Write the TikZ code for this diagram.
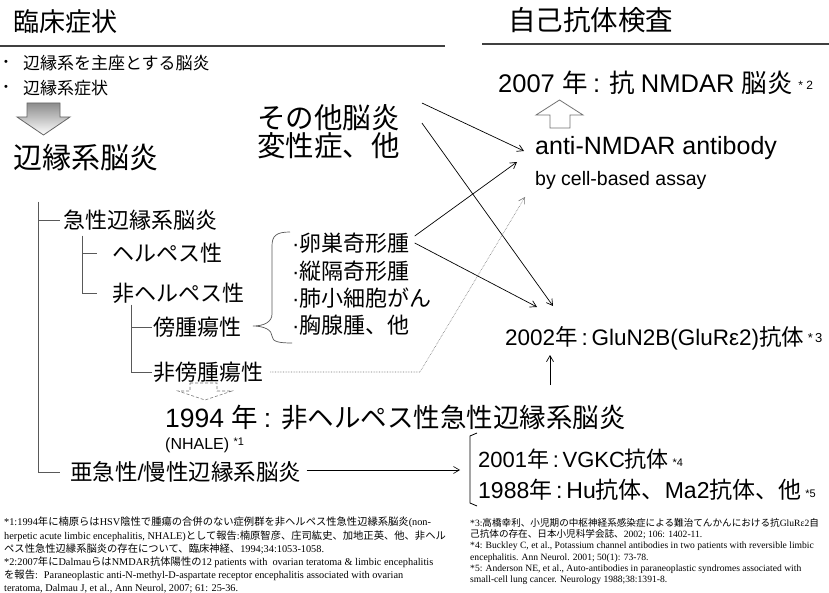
\documentclass[tikz,border=0pt]{standalone}
\usepackage{fontspec}
\setmainfont{Liberation Sans}
\newfontfamily\jp{Noto Sans CJK JP}
\newfontfamily\lserif{Liberation Serif}
\usetikzlibrary{arrows.meta,calc}
% automatic switch to the CJK font for Japanese characters
\XeTeXinterchartokenstate=1
\newXeTeXintercharclass\CJKcls
\newcount\cjkc
\def\setcjkrange#1#2{\cjkc=#1\relax\loop\ifnum\cjkc<#2\relax\XeTeXcharclass\cjkc=\CJKcls\relax\advance\cjkc by 1\relax\repeat}
\setcjkrange{"3000}{"3100}
\setcjkrange{"4E00}{"A000}
\setcjkrange{"FF00}{"FFF0}
\def\latfont{\rmfamily}
\XeTeXinterchartoks 0 \CJKcls = {\jp}
\XeTeXinterchartoks 4095 \CJKcls = {\jp}
\XeTeXinterchartoks \CJKcls 0 = {\latfont}
\XeTeXinterchartoks 4095 0 = {\latfont}
\begin{document}
\begin{tikzpicture}[x=1pt,y=-1pt,
  txt/.style={inner sep=0pt,anchor=west},
  fs/.style={font=\fontsize{#1}{#1}\selectfont},
  hline/.style={line width=1.3pt,black!75},
  tree/.style={line width=0.7pt,black!65},
  arr/.style={line width=0.7pt,-{Straight Barb[length=6pt,width=7pt]}},
  dotarr/.style={line width=0.6pt,black!55,densely dotted,-{Straight Barb[length=6pt,width=7pt]}},
  hollow/.style={line width=0.8pt,draw=black!55,fill=white},
  fn/.style={inner sep=0pt,anchor=north west,align=left}]
\useasboundingbox (0,0) rectangle (829,593);
\fill[white] (0,0) rectangle (829,593);

% headers
\node[txt,fs=26] (h1) at (13,22) {臨床症状};
\node[txt,fs=27.5] (h2) at (508,20) {自己抗体検査};
\draw[hline] (0,46) -- (445,46);
\draw[hline] (482,44) -- (829,44);

% bullets
\node[fs=11,inner sep=0pt] (b1d) at (6,63) {•};
\node[txt,fs=17] (b1) at (23,63) {辺縁系を主座とする脳炎};
\node[fs=11,inner sep=0pt] (b2d) at (6,88) {•};
\node[txt,fs=17] (b2) at (23,88) {辺縁系症状};

% big hollow down arrow
\shade[top color=black!45,bottom color=white] (27,103) -- (60,103) -- (60,117) -- (70,117) -- (43.5,135) -- (17,117) -- (27,117) -- cycle;
\draw[line width=0.8pt,black!60] (27,103) -- (60,103) -- (60,117) -- (70,117) -- (43.5,135) -- (17,117) -- (27,117) -- cycle;

\node[txt,fs=29] (lim) at (13,157) {辺縁系脳炎};
\node[txt,fs=28.5] (oth1) at (257,118) {その他脳炎};
\node[txt,fs=28.5] (oth2) at (257,146) {変性症、他};

% tree
\node[txt,fs=22] (acute) at (63,220) {急性辺縁系脳炎};
\node[txt,fs=22] (herp) at (112,253) {ヘルペス性};
\node[txt,fs=22] (nherp) at (112,293) {非ヘルペス性};
\node[txt,fs=22] (para) at (153,327) {傍腫瘍性};
\node[txt,fs=22] (npara) at (153,372) {非傍腫瘍性};
\node[txt,fs=22.5] (sub) at (70,472) {亜急性/慢性辺縁系脳炎};

\coordinate (v1) at (38,202);
\draw[tree] (v1) |- ($(acute.west)+(-3,0)$);
\draw[tree] (v1) |- ($(sub.west)+(-10,0)$);
\coordinate (v2) at (82,236);
\draw[tree] (v2) |- ($(herp.west)+(-15,0)$);
\draw[tree] (v2) |- ($(nherp.west)+(-15,0)$);
\coordinate (v3) at (131,305);
\draw[tree] (v3) |- ($(para.west)+(-1,0)$);
\draw[tree] (v3) |- ($(npara.west)+(-1,0)$);

% tumour list and brace
\node[txt,fs=22] (i1) at (292,243) {·卵巣奇形腫};
\node[txt,fs=22] (i2) at (292,271) {·縦隔奇形腫};
\node[txt,fs=22] (i3) at (292,298) {·肺小細胞がん};
\node[txt,fs=22] (i4) at (292,325) {·胸腺腫、他};
\draw[tree] (290,232) .. controls (276,232) and (272,236) .. (272,246) -- (272,314)
  .. controls (272,322) and (264,326) .. (253,326)
  .. controls (264,326) and (272,330) .. (272,336)
  .. controls (272,342) and (280,343) .. (292,343);

% small hollow arrow under non-paraneoplastic
\draw[line width=0.6pt,black!55,densely dashed,fill=white] (190,383) -- (217,383) -- (217,391) -- (232,391) -- (205,400) -- (178,391) -- (190,391) -- cycle;

% right column
\node[txt,fs=25.5] (y2007) at (498,83) {2007 年 : 抗 NMDAR 脳炎 {\fontsize{12}{12}\selectfont\raisebox{3pt}{* 2}}};
\draw[hollow] (550,128) -- (550,115) -- (536,115) -- (559.5,100) -- (583,115) -- (570,115) -- (570,128) -- cycle;
\node[txt,fs=25] (anti) at (535,148) {anti-NMDAR antibody};
\node[txt,fs=19.5] (cba) at (535,180) {by cell-based assay};

\node[txt,fs=22.5] (y2002) at (505,338) {2002年\,:\,GluN2B(GluRε2)抗体\,{\fontsize{13}{13}\selectfont\raisebox{3pt}{*\,3}}};
\coordinate (ua) at (550,385);
\draw[arr] (ua) -- ($(y2002.west -| ua)+(0,17)$);

\node[txt,fs=26.5] (y1994) at (165,418) {1994 年 : 非ヘルペス性急性辺縁系脳炎};
\node[txt,fs=16] (nhale) at (165,445) {(NHALE) {\fontsize{11}{11}\selectfont\raisebox{4pt}{*1}}};

\coordinate (brk) at (470,470);
\draw[line width=0.8pt] (477,433) -- (470,436) -- (470,503) -- (477,506);
\node[txt,fs=22] (y2001) at (478,459) {2001年\,:\,VGKC抗体\,{\fontsize{11}{11}\selectfont\raisebox{1pt}{*4}}};
\node[txt,fs=23] (y1988) at (478,490) {1988年\,:\,Hu抗体、Ma2抗体、他\,{\fontsize{11}{11}\selectfont\raisebox{1pt}{*5}}};

% connectors
\draw[arr] ($(oth1.east)+(22,-15)$) -- ($(anti.west)+(-11,3)$);
\draw[arr] ($(oth2.east)+(22,-23)$) -- ($(y2002.west)+(48,-32)$);
\draw[arr] ($(i1.east)+(5,-7)$) -- ($(anti.west)+(-18,14)$);
\draw[arr] ($(i1.east)+(5,0)$) -- ($(y2002.west)+(32,-31)$);
\coordinate (dk) at (420,372);
\draw[dotarr] ($(npara.east)+(7,0)$) -- (dk) -- ($(anti.west)+(-10,49)$);
\draw[arr,line width=0.6pt] ($(sub.east)+(5,-2)$) -- ($(brk)+(-10,0)$);

% footnotes
\node[fn,font={\def\latfont{\lserif}\lserif\fontsize{10.3}{13.2}\selectfont}] (fn1) at (4,517) {%
*1:1994年に楠原らはHSV陰性で腫瘍の合併のない症例群を非ヘルペス性急性辺縁系脳炎(non-\\
herpetic acute limbic encephalitis, NHALE)として報告:楠原智彦、庄司紘史、加地正英、他、非ヘル\\
ペス性急性辺縁系脳炎の存在について、臨床神経、1994;34:1053-1058.\\
*2:2007年にDalmauらはNMDAR抗体陽性の12 patients with \ ovarian teratoma \& limbic encephalitis\\
を報告: \ Paraneoplastic anti-N-methyl-D-aspartate receptor encephalitis associated with ovarian\\
teratoma, Dalmau J, et al., Ann Neurol, 2007; 61: 25-36.};
\node[fn,font={\def\latfont{\lserif}\lserif\fontsize{9.6}{11.3}\selectfont}] (fn2) at (470,518) {%
*3:高橋幸利、小児期の中枢神経系感染症による難治てんかんにおける抗GluRε2自\\
己抗体の存在、日本小児科学会誌、2002; 106: 1402-11.\\
*4: Buckley C, et al., Potassium channel antibodies in two patients with reversible limbic\\
encephalitis. Ann Neurol. 2001; 50(1): 73-78.\\
*5: Anderson NE, et al., Auto-antibodies in paraneoplastic syndromes associated with\\
small-cell lung cancer. Neurology 1988;38:1391-8.};
\end{tikzpicture}
\end{document}
